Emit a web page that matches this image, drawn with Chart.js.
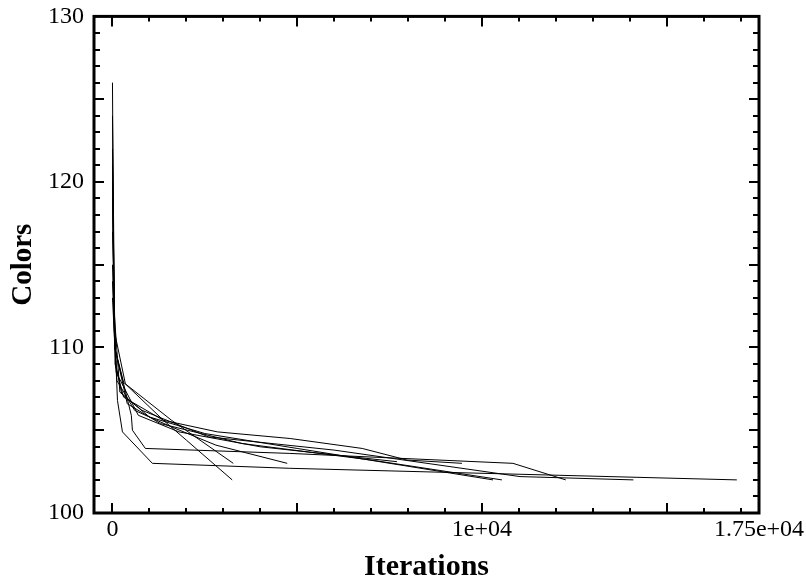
<!DOCTYPE html>
<html>
<head>
<meta charset="utf-8">
<script src="https://cdn.jsdelivr.net/npm/chart.js@4.4.0/dist/chart.umd.min.js"></script>
<style>
  html, body { margin: 0; padding: 0; background: #fff; }
</style>
</head>
<body>
<canvas id="myChart" width="806" height="582"></canvas>
<script>
// each run: [iteration, colors]
const runA = [[0,126],[40,112],[135,106.8],[270,104.9],[1080,103],[4800,102.7],[16900,102]];
const runB = [[0,122],[60,110],[300,107.9],[1380,105.6],[2000,104.4],[3240,102]];
const runC = [[0,119],[60,110],[510,105.9],[540,105],[890,103.9],[4800,103.6],[10840,103],[12270,102]];
const runD = [[0,124],[70,109],[300,107],[1380,105.6],[2840,104.9],[4810,104.5],[6760,103.9],[7970,103.2],[9460,103]];
const runE = [[0,120],[50,111],[350,107.8],[1600,105.6],[3270,103]];
const runG = [[0,117],[90,109],[250,107.2],[1000,105.8],[2500,104.8],[5000,103.9],[10300,102]];
const runH = [[0,115],[60,110],[400,106.6],[1300,105.4],[3500,104.2],[7000,103.2],[10540,102]];
const runI = [[0,121],[50,112],[200,107.3],[800,106.2],[2600,104.6],[6000,103.8],[11030,102.2],[14100,102]];
const runL = [[0,114],[120,108],[600,106.2],[1600,105.2],[2800,104.1],[4730,103]];
const runM = [[0,113],[100,108.5],[700,105.9],[1800,104.9],[4000,104],[7700,103.1]];
const runs = [runA, runB, runC, runD, runE, runG, runH, runI, runL, runM];

const xTickValues = [0, 10000, 17500];
const xTickLabels = ["0", "1e+04", "1.75e+04"];
const yTickValues = [100, 110, 120, 130];

const FONT = "'Liberation Serif', 'Times New Roman', serif";

// frame + inward ticks on all four sides
const framePlugin = {
  id: "frame",
  afterDraw(chart) {
    const { ctx, chartArea: a, scales } = chart;
    const x = scales.x, y = scales.y;
    ctx.save();
    ctx.strokeStyle = "#000";
    ctx.lineWidth = 2;
    ctx.beginPath();
    for (let v = 0; v <= 17000; v += 1000) {
      const px = Math.round(x.getPixelForValue(v));
      const len = v % 5000 === 0 ? 10 : 5;
      ctx.moveTo(px, a.bottom); ctx.lineTo(px, a.bottom - len);
      ctx.moveTo(px, a.top); ctx.lineTo(px, a.top + len);
    }
    for (let v = 101; v < 130; v++) {
      const py = Math.round(y.getPixelForValue(v));
      const len = v % 5 === 0 ? 10 : 6;
      ctx.moveTo(a.left, py); ctx.lineTo(a.left + len, py);
      ctx.moveTo(a.right, py); ctx.lineTo(a.right - len, py);
    }
    ctx.stroke();
    ctx.lineWidth = 3;
    ctx.strokeRect(a.left, a.top, a.right - a.left, a.bottom - a.top);
    ctx.restore();
  }
};

const barCanvas = document.getElementById("myChart");
const myChart = new Chart(barCanvas, {
  type: "scatter",
  data: {
    datasets: runs.map((r) => ({
      data: r.map((p) => ({ x: p[0], y: p[1] })),
      showLine: true,
      borderColor: "#000",
      borderWidth: 1,
      pointRadius: 0,
      tension: 0
    }))
  },
  options: {
    responsive: false,
    animation: false,
    devicePixelRatio: 1,
    layout: { padding: { top: 8, right: 47, left: 0, bottom: 0 } },
    plugins: { legend: { display: false }, tooltip: { enabled: false } },
    scales: {
      x: {
        type: "linear",
        min: -500,
        max: 17500,
        grid: { display: false },
        border: { display: false },
        afterBuildTicks: (s) => { s.ticks = xTickValues.map((v) => ({ value: v })); },
        afterFit: (s) => { s.height = 69; },
        ticks: {
          color: "#000",
          padding: -6,
          maxRotation: 0,
          font: { family: FONT, size: 24 },
          callback: (v) => xTickLabels[xTickValues.indexOf(v)]
        },
        title: {
          display: true,
          text: "Iterations",
          color: "#000",
          padding: { top: 0, bottom: 0 },
          font: { family: FONT, size: 30, weight: "bold", lineHeight: 1 }
        }
      },
      y: {
        min: 100,
        max: 130,
        grid: { display: false },
        border: { display: false },
        afterBuildTicks: (s) => { s.ticks = yTickValues.map((v) => ({ value: v })); },
        afterFit: (s) => { s.width = 94; },
        ticks: {
          color: "#000",
          padding: 2,
          font: { family: FONT, size: 24 }
        },
        title: {
          display: true,
          text: "Colors",
          color: "#000",
          padding: { top: 6, bottom: 0 },
          font: { family: FONT, size: 29, weight: "bold" }
        }
      }
    }
  },
  plugins: [framePlugin]
});
</script>
</body>
</html>
